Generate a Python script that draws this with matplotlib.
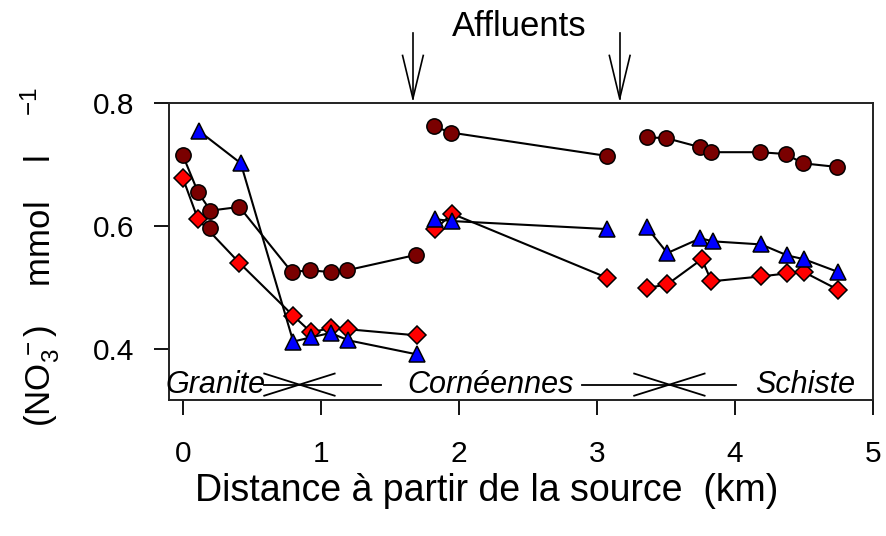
import matplotlib
matplotlib.use("Agg")
import matplotlib.pyplot as plt
from matplotlib.transforms import blended_transform_factory

plt.rcParams["font.family"] = ["Liberation Sans", "DejaVu Sans"]
plt.rcParams["mathtext.fontset"] = "custom"
plt.rcParams["mathtext.rm"] = "Liberation Sans"
plt.rcParams["mathtext.it"] = "Liberation Sans:italic"

# ---- nitrate along the stream, three reaches separated by the tributaries ----
# dark red circles
circ_x1 = [0.0, 0.11, 0.20, 0.41, 0.79, 0.92, 1.07, 1.19, 1.69]
circ_y1 = [0.715, 0.655, 0.625, 0.631, 0.525, 0.528, 0.525, 0.528, 0.553]
circ_x_extra = [0.20]
circ_y_extra = [0.596]
circ_x2 = [1.82, 1.94, 3.07]
circ_y2 = [0.762, 0.752, 0.714]
circ_x3 = [3.36, 3.50, 3.75, 3.83, 4.18, 4.37, 4.49, 4.74]
circ_y3 = [0.744, 0.743, 0.728, 0.720, 0.720, 0.717, 0.702, 0.696]

# blue triangles
tri_x1 = [0.12, 0.42, 0.80, 0.93, 1.07, 1.20, 1.70]
tri_y1 = [0.754, 0.702, 0.412, 0.419, 0.426, 0.414, 0.391]
tri_x2 = [1.83, 1.95, 3.07]
tri_y2 = [0.611, 0.608, 0.595]
tri_x3 = [3.36, 3.51, 3.75, 3.84, 4.19, 4.38, 4.50, 4.75]
tri_y3 = [0.598, 0.556, 0.580, 0.575, 0.570, 0.552, 0.546, 0.525]

# red diamonds
dia_x1 = [0.0, 0.11, 0.41, 0.80, 0.93, 1.07, 1.20, 1.70]
dia_y1 = [0.678, 0.611, 0.540, 0.454, 0.427, 0.434, 0.432, 0.422]
dia_x2 = [1.83, 1.95, 3.07]
dia_y2 = [0.595, 0.620, 0.516]
dia_x3 = [3.36, 3.51, 3.76, 3.83, 4.19, 4.38, 4.50, 4.75]
dia_y3 = [0.499, 0.505, 0.546, 0.510, 0.518, 0.523, 0.525, 0.496]

x_ticks = [0, 1, 2, 3, 4, 5]
y_ticks = [0.4, 0.6, 0.8]

# geology labels and the tributary positions
geo_names = ["Granite", "Cornéennes", "Schiste"]
geo_x = [0.24, 2.23, 4.51]
geo_y = 0.342
tributary_x = [1.667, 3.165]

W, H = 887, 536
fig = plt.figure(figsize=(W / 100, H / 100), dpi=100)
ax = fig.add_axes([169 / W, 1 - 400 / H, (873 - 169) / W, (400 - 103) / H])
ax.set_xlim(-0.1, 5.0)
ax.set_ylim(0.317, 0.8)

line_kw = dict(color="black", lw=1.5, mec="black", mew=1.1)

for xs, ys in [(dia_x1, dia_y1), (dia_x2, dia_y2), (dia_x3, dia_y3)]:
    ax.plot(xs, ys, marker="D", ms=9.5, mfc="#ff0000", zorder=2, **line_kw)
for xs, ys in [(circ_x1, circ_y1), (circ_x2, circ_y2), (circ_x3, circ_y3)]:
    ax.plot(xs, ys, marker="o", ms=11, mfc="#7a0000", zorder=3, **line_kw)
ax.plot(circ_x_extra, circ_y_extra, ls="none", marker="o", ms=11,
        mfc="#7a0000", mec="black", mew=1.1, zorder=3)
for xs, ys in [(tri_x1, tri_y1), (tri_x2, tri_y2), (tri_x3, tri_y3)]:
    ax.plot(xs, ys, marker="^", ms=11.5, mfc="#0000ff", zorder=4, **line_kw)

# geology band along the bottom
for name, gx in zip(geo_names, geo_x):
    ax.text(gx, geo_y, name, style="italic", fontsize=22, ha="center",
            va="center", zorder=5)

dy = 0.018
seg_kw = dict(color="black", lw=1.3, zorder=5)
# left boundary: granite / cornéennes
ax.plot([0.59, 1.435], [geo_y, geo_y], **seg_kw)
ax.plot([0.59, 1.10], [geo_y - dy, geo_y + dy], **seg_kw)
ax.plot([0.59, 1.10], [geo_y + dy, geo_y - dy], **seg_kw)
# right boundary: cornéennes / schiste
ax.plot([2.89, 4.01], [geo_y, geo_y], **seg_kw)
ax.plot([3.27, 3.78], [geo_y - dy, geo_y + dy], **seg_kw)
ax.plot([3.27, 3.78], [geo_y + dy, geo_y - dy], **seg_kw)

# tributary arrows above the plot
tr = blended_transform_factory(ax.transData, ax.transAxes)
hw = 0.075
for tx in tributary_x:
    ax.plot([tx, tx], [1.235, 1.015], transform=tr, clip_on=False,
            color="black", lw=1.2)
    ax.plot([tx - hw, tx, tx + hw], [1.16, 1.015, 1.16], transform=tr,
            clip_on=False, color="black", lw=1.2)
ax.text(2.44, 1.258, "Affluents", transform=tr, ha="center", va="center",
        fontsize=25)

ax.set_xticks(x_ticks)
ax.set_xticklabels([str(v) for v in x_ticks])
ax.set_yticks(y_ticks)
ax.set_yticklabels([f"{v:.1f}" for v in y_ticks])
ax.tick_params(axis="both", length=11, width=1.3, labelsize=21.5,
               direction="out", color="black")
ax.tick_params(axis="x", pad=18)
ax.tick_params(axis="y", pad=14)
for s in ax.spines.values():
    s.set_linewidth(1.4)
    s.set_color("#222222")

fig.text(487 / W, 1 - 491 / H, "Distance à partir de la source  (km)",
         ha="center", va="center", fontsize=27)
fig.text(40 / W, 1 - 257 / H,
         r"$\mathregular{(NO_3^{\,-})\quad\ mmol\quad\ l\quad\ ^{-1}}$",
         rotation=90, ha="center", va="center", fontsize=25)

fig.savefig("out.png", dpi=100)
